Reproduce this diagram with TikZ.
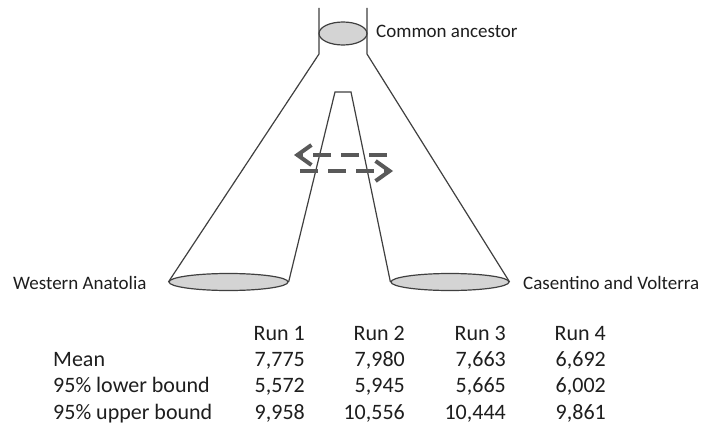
\documentclass[tikz,border=0pt]{standalone}
\usepackage{fontspec}
\setmainfont{Carlito}
\usetikzlibrary{shapes.geometric,arrows.meta}
\definecolor{linec}{HTML}{404040}
\definecolor{fillc}{HTML}{D4D4D4}
\definecolor{txtc}{HTML}{1E1E1E}
\definecolor{arrc}{HTML}{595959}
\begin{document}
\begin{tikzpicture}[x=1pt,y=-1pt,
  popu/.style={ellipse, draw=linec, fill=fillc, line width=1.2pt, inner sep=0pt},
  outl/.style={draw=linec, line width=1.2pt},
  lab/.style={text=txtc, font=\fontsize{19}{23}\selectfont, inner sep=0pt, anchor=base west},
  rowlab/.style={text=txtc, font=\fontsize{22}{26}\selectfont, inner sep=0pt, anchor=base west},
  val/.style={text=txtc, font=\fontsize{22}{26}\selectfont, inner sep=0pt, anchor=base east},
  mig/.style={draw=arrc, line width=4pt, dash pattern=on 18pt off 10pt, -{Straight Barb[length=14pt,width=20pt]}}]
\useasboundingbox (0,0) rectangle (704,428);
\fill[white] (0,0) rectangle (704,428);
% populations
\node[popu, minimum width=48pt, minimum height=23pt] (anc) at (343,33.5) {};
\node[popu, minimum width=119pt, minimum height=17pt] (wa) at (228.5,282) {};
\node[popu, minimum width=118pt, minimum height=17pt] (cv) at (450,282) {};
% tree outline
\coordinate (tl) at (319,8);
\coordinate (bl) at (319,54);
\coordinate (tr) at (367,8);
\coordinate (br) at (367,54);
\coordinate (al) at (335,92);
\coordinate (ar) at (351,92);
\draw[outl] (tl) -- (bl) -- (wa.west);
\draw[outl] (tr) -- (br) -- (cv.east);
\draw[outl] (wa.east) -- (al) -- (ar) -- (cv.west);
% migration arrows
\coordinate (m1s) at (387,155);
\coordinate (m1e) at (294,155);
\coordinate (m2s) at (300,171);
\coordinate (m2e) at (393,171);
\draw[mig] (m1s) -- (m1e);
\draw[mig] (m2s) -- (m2e);
% labels
\node[lab] (lanc) at (376,38) {Common ancestor};
\node[lab] (lwa) at (13,289) {Western Anatolia};
\node[lab] (lcv) at (523,289) {Casentino and Volterra};
% table
\node[val] (h1) at (305,340) {Run 1};
\node[val] (h2) at (405,340) {Run 2};
\node[val] (h3) at (506,340) {Run 3};
\node[val] (h4) at (606,340) {Run 4};
\node[rowlab] (r1) at (53,366) {Mean};
\node[rowlab] (r2) at (53,392) {95\% lower bound};
\node[rowlab] (r3) at (53,419) {95\% upper bound};
\node[val] (v11) at (305,366) {7,775};
\node[val] (v12) at (405,366) {7,980};
\node[val] (v13) at (506,366) {7,663};
\node[val] (v14) at (606,366) {6,692};
\node[val] (v21) at (305,392) {5,572};
\node[val] (v22) at (405,392) {5,945};
\node[val] (v23) at (506,392) {5,665};
\node[val] (v24) at (606,392) {6,002};
\node[val] (v31) at (305,419) {9,958};
\node[val] (v32) at (405,419) {10,556};
\node[val] (v33) at (506,419) {10,444};
\node[val] (v34) at (606,419) {9,861};
\end{tikzpicture}
\end{document}
